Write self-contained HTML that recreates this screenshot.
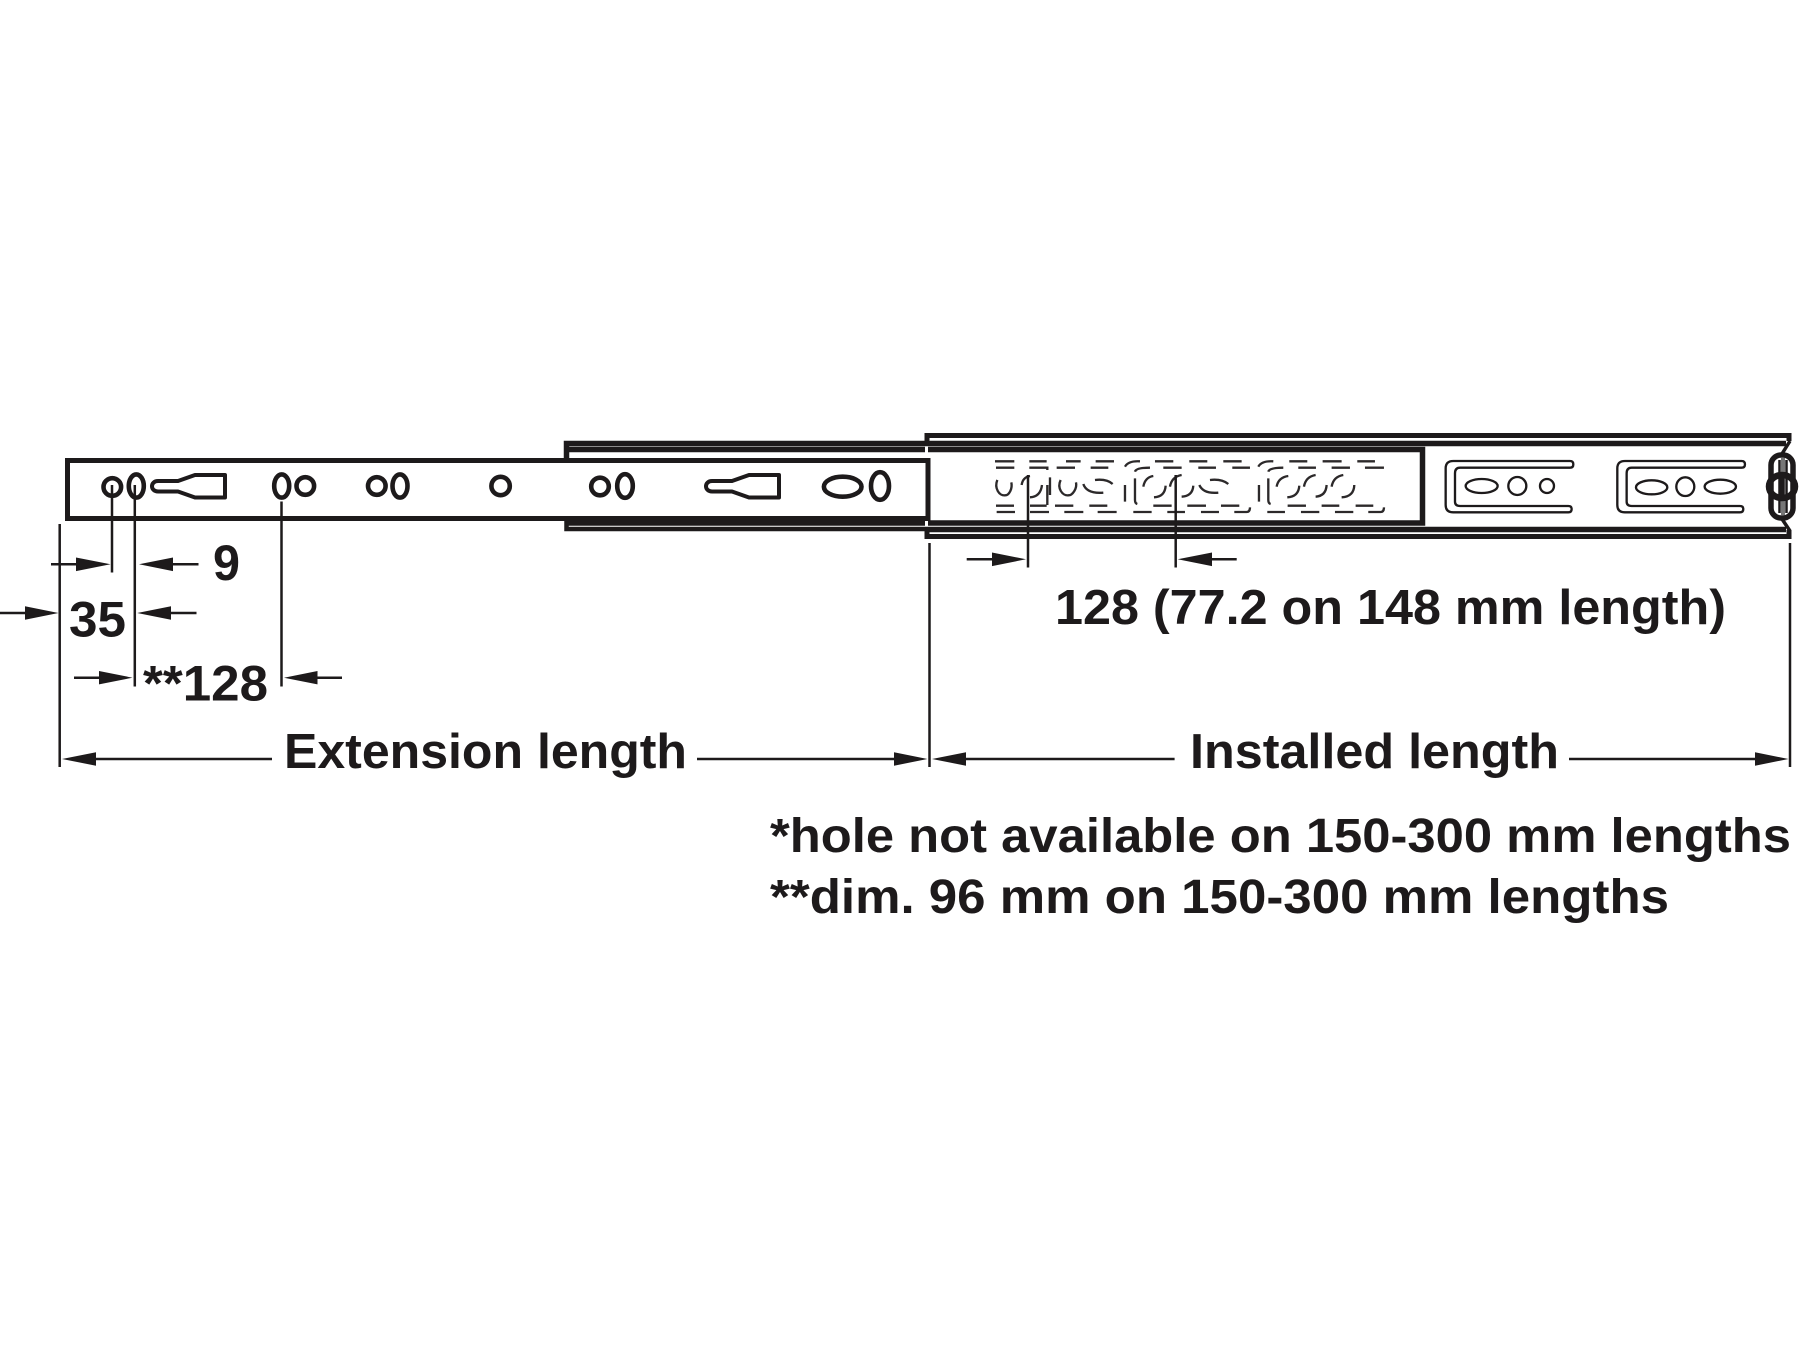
<!DOCTYPE html>
<html><head><meta charset="utf-8">
<style>html,body{margin:0;padding:0;background:#fff}svg{display:block}
text{font-family:"Liberation Sans",Arial,sans-serif;font-weight:bold;fill:#1d1a1b}</style></head>
<body>
<svg width="1800" height="1350" viewBox="0 0 1800 1350" xmlns="http://www.w3.org/2000/svg">
<rect width="1800" height="1350" fill="#fff"/>
<g fill="none" stroke="#1d1a1b">
  <!-- middle rail -->
  <path d="M566.5 458V443.5H925" stroke-width="5.5"/>
  <path d="M566.5 517V529H925" stroke-width="4.5"/>
  <path d="M566 449.5H925" stroke-width="5.5"/>
  <path d="M566 521.5H925" stroke-width="8.5"/>
  <!-- outer rail -->
  <path d="M927 441V435.5H1789V441" stroke-width="5"/>
  <path d="M927 527V536.5H1789V530" stroke-width="5"/>
  <path d="M925 443.5H1786" stroke-width="5.5"/>
  <path d="M925 529.5H1786" stroke-width="5.5"/>
  <!-- installed inner rect -->
  <path d="M928 449.5H1422.5V523H928" stroke-width="5.5"/>
  <!-- front rail -->
  <rect x="67.5" y="460.5" width="860.5" height="58" fill="#fff" stroke-width="5"/>
  <!-- holes -->
  <g stroke-width="4.6">
    <circle cx="112.3" cy="487" r="8.8"/>
    <ellipse cx="136.3" cy="486" rx="7.5" ry="11.6"/>
    <path d="M225 475H195L178 481H158C150 481 150 491.5 158 491.5H178L195 497.5H225Z" stroke-linejoin="round" stroke-width="4"/>
    <ellipse cx="281.7" cy="486" rx="7.5" ry="11.6"/>
    <circle cx="305.3" cy="486" r="8.8"/>
    <circle cx="376.8" cy="486" r="8.8"/>
    <ellipse cx="400" cy="486" rx="7.5" ry="11.6"/>
    <circle cx="500.6" cy="486" r="9.2"/>
    <circle cx="600" cy="486.5" r="8.8"/>
    <ellipse cx="625" cy="486" rx="7.8" ry="11.8"/>
    <path d="M779 475H749L732 481H712C704 481 704 491.5 712 491.5H732L749 497.5H779Z" stroke-linejoin="round" stroke-width="4"/>
    <ellipse cx="842.7" cy="486.7" rx="18.8" ry="10"/>
    <ellipse cx="880" cy="486" rx="9" ry="13.8"/>
  </g>
  <!-- stamped dashes -->
  <g transform="translate(920 420) scale(.3333)" stroke-width="7" stroke="#2c292a">
    <path d="M225 124H283M328 124H380M438 124H482M527 124H582M615 140Q625 122 660 124M705 124H760M808 124H862M910 124H965M1015 140Q1025 122 1060 124M1108 124H1162M1208 124H1265M1312 124H1365"/>
    <path d="M228 143H283M328 143H382V150M410 143H465M512 143H565M645 155Q648 143 690 143M730 143H785M835 143H888M937 143H990M1045 155Q1048 143 1090 143M1135 143H1188M1235 143H1290M1335 143H1392"/>
    <path d="M228 257H282M330 257H380M405 257H460M508 257H562M700 257H755M802 257H858M903 257H958M1103 257H1158M1205 257H1258M1307 257H1360"/>
    <path d="M230 276H285M330 276H387M433 276H490M533 276H590M640 276H695M742 276H795M843 276H897M943 276H980Q990 276 990 262M1042 276H1095M1143 276H1198M1245 276H1300M1345 276H1382Q1392 276 1392 262"/>
    <path d="M382 195V255M390 172V225M615 195V245M645 175V240Q645 250 652 252M1017 195V245M1045 175V240Q1045 250 1052 252"/>
    <path d="M232 180C222 205 238 228 255 226C268 226 278 205 274 187"/>
    <path d="M305 195Q308 172 330 168M330 232Q362 230 366 195"/>
    <path d="M422 180C410 205 428 228 445 226C458 226 472 205 468 187"/>
    <path d="M490 192Q500 222 550 218M525 180Q560 176 578 192"/>
    <path d="M670 200Q675 172 700 168M702 232Q735 230 737 197"/>
    <path d="M750 200Q755 170 785 165M785 230Q818 228 820 197"/>
    <path d="M838 195Q850 222 895 218M870 180Q905 176 925 192"/>
    <path d="M1070 200Q1075 172 1105 168M1102 232Q1136 230 1138 197"/>
    <path d="M1152 200Q1157 170 1187 165M1187 230Q1218 228 1220 195"/>
    <path d="M1235 200Q1240 170 1270 165M1265 232Q1302 230 1303 195"/>
  </g>
  <!-- slots on right -->
  <g transform="translate(1400 420) scale(.3333)" stroke-width="7" stroke="#1d1a1b">
    <path d="M510 123H160Q137 123 137 145V255Q137 277 160 277H505Q515 277 515 267Q515 258 505 258H180Q165 258 165 245V160Q165 143 180 143H510Q520 143 520 133Q520 123 510 123Z"/>
    <ellipse cx="245" cy="198" rx="48" ry="21"/>
    <circle cx="352" cy="198" r="27"/>
    <circle cx="441" cy="198" r="21"/>
    <path d="M1025 123H675Q652 123 652 145V255Q652 277 675 277H1020Q1030 277 1030 267Q1030 258 1020 258H695Q680 258 680 245V160Q680 143 695 143H1025Q1035 143 1035 133Q1035 123 1025 123Z"/>
    <ellipse cx="755" cy="202" rx="47" ry="21"/>
    <ellipse cx="856" cy="200" rx="27" ry="28"/>
    <ellipse cx="961" cy="200" rx="47" ry="21"/>
  </g>
  <!-- right end cap -->
  <g stroke="#1d1a1b">
    <path d="M1790 441L1780 457M1780 516L1790 531" stroke-width="3.5"/>
    <rect x="1771" y="455" width="22" height="63" rx="10" stroke-width="5.5" fill="#fff"/>
    <path d="M1779.5 460V513M1786.5 460V513" stroke-width="2.5"/>
    <path d="M1783 458V515" stroke-width="4" stroke="#777"/>
    <ellipse cx="1782" cy="486.5" rx="13" ry="11.5" stroke-width="6.5"/>
    <path d="M1782.5 476V497" stroke-width="4"/>
  </g>
  <!-- dimension lines -->
  <g stroke-width="2.5">
    <path d="M59.7 524V767M112 485V572.5M134.8 485V686.5M281.5 501.5V686.5"/>
    <path d="M929.5 543V767M1790 543V767"/>
    <path d="M1028 475V567.5M1175.7 475V567.5"/>
    <path d="M51 564.3H90M172 564.3H198.5M0 613H30M171 613H196.5M74 677.7H100M317 677.7H342"/>
    <path d="M90 759H272M697 759H900M966 759H1174.6M1569 759H1760"/>
    <path d="M966.7 559.3H995M1211 559.3H1236.7"/>
  </g>
</g>
<!-- arrowheads -->
<g fill="#1d1a1b">
  <path d="M110.5 564.3L76 557.5V571.1Z"/>
  <path d="M139 564.3L173 557.5V571.1Z"/>
  <path d="M58.5 613L25 606.3V619.7Z"/>
  <path d="M137.2 613L171 606.3V619.7Z"/>
  <path d="M132.5 677.7L99 671V684.4Z"/>
  <path d="M284 677.7L317.5 671V684.4Z"/>
  <path d="M62 759L96 752.3V765.7Z"/>
  <path d="M927.5 759L894 752.3V765.7Z"/>
  <path d="M932 759L966 752.3V765.7Z"/>
  <path d="M1788.5 759L1755 752.3V765.7Z"/>
  <path d="M1026 559.3L992 552.5V566.1Z"/>
  <path d="M1177.7 559.3L1212 552.5V566.1Z"/>
</g>
<!-- labels -->
<text x="213" y="580" font-size="50" textLength="27" lengthAdjust="spacingAndGlyphs">9</text>
<text x="69" y="636.5" font-size="50" textLength="57" lengthAdjust="spacingAndGlyphs">35</text>
<text x="143" y="700.5" font-size="50" textLength="125" lengthAdjust="spacingAndGlyphs">**128</text>
<text x="284" y="768" font-size="49" textLength="403" lengthAdjust="spacingAndGlyphs">Extension length</text>
<text x="1190" y="768" font-size="49" textLength="369" lengthAdjust="spacingAndGlyphs">Installed length</text>
<text x="1055" y="624" font-size="49" textLength="671" lengthAdjust="spacingAndGlyphs">128 (77.2 on 148 mm length)</text>
<text x="770" y="852" font-size="48" textLength="1021" lengthAdjust="spacingAndGlyphs">*hole not available on 150-300 mm lengths</text>
<text x="770" y="913" font-size="48" textLength="899" lengthAdjust="spacingAndGlyphs">**dim. 96 mm on 150-300 mm lengths</text>
</svg>
</body></html>
